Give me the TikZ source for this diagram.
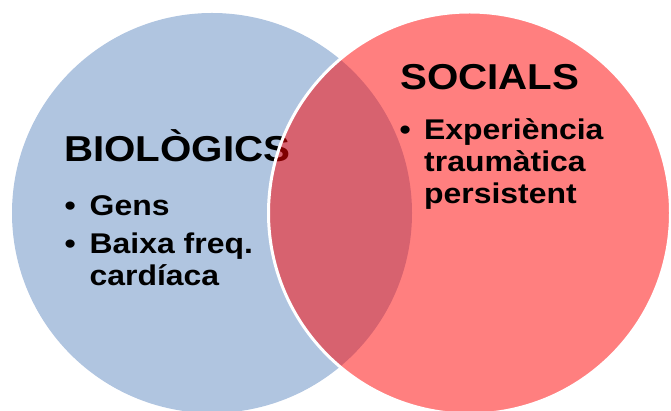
\documentclass[tikz,border=0pt]{standalone}
\usepackage{fontspec}
\setmainfont{Liberation Sans}[FakeStretch=1.12]
\usetikzlibrary{positioning}
\definecolor{biolblue}{HTML}{B0C5E0}

\begin{document}
\begin{tikzpicture}[x=1pt,y=1pt,
  title/.style={inner sep=0,anchor=base west,font=\fontsize{36}{40}\selectfont\bfseries},
  item/.style={inner sep=0,anchor=base west,align=left,font=\fontsize{28.5}{32}\selectfont\bfseries}]
\useasboundingbox (0,0) rectangle (671,411);
% left hand: biological
\scope
\fill[biolblue] (212,198) circle (200);
\endscope
\node[title] (bio) at (64,249) {BIOLÒGICS};
\node[item] (dotgens) at (64.5,195.5) {\textbullet};
\node[item] (gens) at (89.5,195.5) {Gens};
\node[item] (dotbaixa) at (64.5,157) {\textbullet};
% base of a two-line node is its last line
\node[item] (baixa) at (89.5,125) {Baixa freq.\\cardíaca};
% right hand: social
\scope
\filldraw[fill=red,fill opacity=0.5,draw=white,line width=3pt] (469.5,198) circle (201);
\endscope
\node[title] (soc) at (400,321) {SOCIALS};
\node[item] (dotexp) at (399.5,271.5) {\textbullet};
\node[item] (exp) at (424,207.5) {Experiència\\traumàtica\\persistent};
\end{tikzpicture}
\end{document}
